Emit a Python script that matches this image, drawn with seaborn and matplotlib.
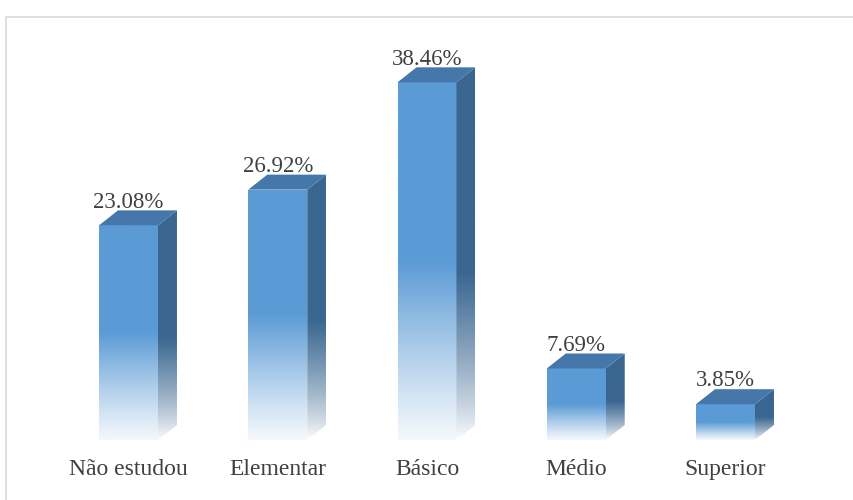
import numpy as np
import pandas as pd
import matplotlib
matplotlib.use("Agg")
import matplotlib.pyplot as plt
from matplotlib.patches import Polygon, Rectangle
from matplotlib.colors import to_rgb
import seaborn as sns

categories = ["Não estudou", "Elementar", "Básico", "Médio", "Superior"]
values = [23.08, 26.92, 38.46, 7.69, 3.85]
value_labels = ["23.08%", "26.92%", "38.46%", "7.69%", "3.85%"]

df = pd.DataFrame({"nivel": categories, "pct": values})

sns.set_theme(style="white")
plt.rcParams["font.family"] = ["Liberation Serif", "DejaVu Serif"]

W, H = 854, 500
fig = plt.figure(figsize=(W / 100, H / 100), dpi=100)
# axes in pixel geometry: baseline at 440 px from top
ax_left, ax_right = 20, 845
ax_bottom, ax_top = 60, 480  # measured from bottom of figure
ax = fig.add_axes([ax_left / W, ax_bottom / H, (ax_right - ax_left) / W, (ax_top - ax_bottom) / H])

front = "#5B9BD5"
side = "#3A6690"
top = "#4677AA"

sns.barplot(data=df, x="nivel", y="pct", color=front, width=0.395,
            saturation=1, ax=ax, edgecolor="none")

px_per_unit = 149.25
px_per_pct = 9.3
x0 = 128.5  # pixel position of first category
ax.set_xlim(-(x0 - ax_left) / px_per_unit, (ax_right - x0) / px_per_unit)
ax.set_ylim(0, (ax_top - ax_bottom) / px_per_pct)

dx = 19 / px_per_unit
dy = 15 / px_per_pct

fc = np.array(to_rgb(front))
sc = np.array(to_rgb(side))
white = np.array([1.0, 1.0, 1.0])


def grad_img(color, solid_from=0.5, low=0.93, gamma=1.1):
    n = 200
    f = np.linspace(0, 1, n)[:, None]  # 0 bottom -> 1 top
    t = np.clip(f / solid_from, 0, 1) ** gamma
    rgb = (1 - t)[..., None] * (low * white + (1 - low) * color) + t[..., None] * color
    return rgb[::-1]  # image origin top


for bar in list(ax.patches):
    x = bar.get_x()
    w = bar.get_width()
    h = bar.get_height()
    bar.set_facecolor("none")
    im = ax.imshow(grad_img(fc), extent=[x, x + w, 0, h], aspect="auto", zorder=2)
    im.set_clip_path(bar)
    # side face
    side_poly = Polygon([[x + w, 0], [x + w, h], [x + w + dx, h + dy], [x + w + dx, dy]],
                        closed=True, facecolor="none", edgecolor="none", zorder=2)
    ax.add_patch(side_poly)
    im2 = ax.imshow(grad_img(sc, solid_from=0.45, low=1.0, gamma=0.8),
                    extent=[x + w, x + w + dx, 0, h + dy], aspect="auto", zorder=2)
    im2.set_clip_path(side_poly)
    # top face
    ax.add_patch(Polygon([[x, h], [x + w, h], [x + w + dx, h + dy], [x + dx, h + dy]],
                         closed=True, facecolor=top, edgecolor="none", zorder=3))

for i, (v, lab) in enumerate(zip(values, value_labels)):
    ax.annotate(lab, (i, v + dy), xytext=(0, 2), textcoords="offset points",
                ha="center", va="baseline", fontsize=16.5, color="#404040",
                annotation_clip=False)

ax.set_xlabel("")
ax.set_ylabel("")
ax.set_yticks([])
ax.tick_params(axis="x", length=0, pad=14, labelsize=17, labelcolor="#404040")
for s in ax.spines.values():
    s.set_visible(False)
ax.patch.set_alpha(0)

# outer frame
fig.patches.append(Rectangle((5.5, -10), 900, H - 16.5 + 10, transform=None,
                             fill=False, edgecolor="#D9D9D9", linewidth=1.2))

fig.savefig("out.png", dpi=100)
